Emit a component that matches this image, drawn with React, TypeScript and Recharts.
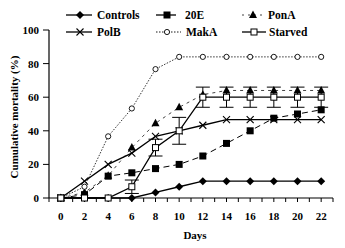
import React from 'react';
import { LineChart, Line, XAxis, YAxis, ErrorBar } from 'recharts';

const days = [0, 2, 4, 6, 8, 10, 12, 14, 16, 18, 20, 22];
const controls = [0, 0, 0, 0, 3.3, 6.7, 10, 10, 10, 10, 10, 10];
const e20 = [0, 2, 13, 15, 17.5, 20, 25, 32.5, 40, 47.5, 50, 52.5];
const ponA = [0, 3.3, 13.3, 30, 44.5, 54, 61.5, 64, 64, 64, 64, 64];
const polB = [0, 10, 20, 26.7, 36.7, 40, 43.3, 46.7, 46.7, 46.7, 46.7, 46.7];
const makA = [0, 6.7, 36.7, 53.3, 76.7, 84, 84, 84, 84, 84, 84, 84];
const starved = [0, 0, 0, 6.7, 30, 40, 60, 60, 60, 60, 60, 60];
const starvedErr: (number | null)[] = [null, null, null, 4, 5, 8, 6, 6, 6, 6, 6, 6];

const xTicks = Array.from({ length: 25 }, (_, i) => i - 1);
const yTicks = [0, 20, 40, 60, 80, 100];

const data = days.map((d, i) => ({
  day: d,
  controls: controls[i],
  e20: e20[i],
  ponA: ponA[i],
  polB: polB[i],
  makA: makA[i],
  starved: starved[i],
  starvedErr: starvedErr[i],
}));

const FONT = "'Liberation Serif', 'Times New Roman', 'DejaVu Serif', serif";
const textStyle = { fontFamily: FONT, fontWeight: 700 as const };

type Shape = 'diamond' | 'square' | 'triangle' | 'x' | 'circle' | 'osquare';

const Marker = ({ shape, cx, cy }: { shape: Shape; cx: number; cy: number }) => {
  switch (shape) {
    case 'diamond':
      return <polygon points={`${cx},${cy - 4} ${cx + 4},${cy} ${cx},${cy + 4} ${cx - 4},${cy}`} fill="#000" />;
    case 'square':
      return <rect x={cx - 3.5} y={cy - 3.5} width={7} height={7} fill="#000" />;
    case 'triangle':
      return <polygon points={`${cx},${cy - 4.5} ${cx + 4},${cy + 3} ${cx - 4},${cy + 3}`} fill="#000" />;
    case 'x':
      return (
        <g stroke="#000" strokeWidth={1.1}>
          <line x1={cx - 3.5} y1={cy - 3.5} x2={cx + 3.5} y2={cy + 3.5} />
          <line x1={cx - 3.5} y1={cy + 3.5} x2={cx + 3.5} y2={cy - 3.5} />
        </g>
      );
    case 'circle':
      return <circle cx={cx} cy={cy} r={2.6} fill="#fff" stroke="#000" strokeWidth={0.9} />;
    case 'osquare':
      return <rect x={cx - 3} y={cy - 3} width={6} height={6} fill="#fff" stroke="#000" strokeWidth={1} />;
  }
  return null;
};

const dotFn = (shape: Shape) => (props: any) => {
  const { cx, cy, index } = props;
  if (cx == null || cy == null) return <g key={`d-${shape}-${index}`} />;
  return (
    <g key={`d-${shape}-${index}`}>
      <Marker shape={shape} cx={cx} cy={cy} />
    </g>
  );
};

const legendItems: { label: string; shape: Shape; x1: number; x2: number; mx: number; tx: number; y: number; dash?: string; color: string; w: number }[] = [
  { label: 'Controls', shape: 'diamond', x1: 66, x2: 92, mx: 80, tx: 97, y: 15, color: '#000', w: 1.3 },
  { label: '20E', shape: 'square', x1: 156, x2: 176, mx: 167, tx: 185, y: 15, color: '#000', w: 1.3 },
  { label: 'PonA', shape: 'triangle', x1: 242, x2: 263, mx: 253, tx: 268, y: 15, dash: '2 4', color: '#444', w: 1 },
  { label: 'PolB', shape: 'x', x1: 66, x2: 92, mx: 80, tx: 97, y: 32, color: '#000', w: 1.3 },
  { label: 'MakA', shape: 'circle', x1: 156, x2: 181, mx: 167, tx: 186, y: 32, dash: '1.5 1.5', color: '#000', w: 0.9 },
  { label: 'Starved', shape: 'osquare', x1: 242, x2: 266, mx: 254, tx: 269, y: 32, color: '#000', w: 1.3 },
];

const tickStyle = { fill: '#000', fontSize: 11, fontWeight: 700, fontFamily: FONT, style: textStyle };

export default function App() {
  return (
    <div style={{ position: 'absolute', left: 0, top: 0, width: 345, height: 248, background: '#fff', fontFamily: FONT }}>
      <LineChart
        width={345}
        height={248}
        data={data}
        margin={{ top: 30, right: 12, left: 0, bottom: 0 }}
        style={{ fontFamily: FONT }}
      >
        <XAxis
          dataKey="day"
          type="number"
          domain={[-1, 23]}
          ticks={xTicks}
          interval={0}
          height={50}
          tickSize={4}
          tickMargin={10}
          stroke="#000"
          tickFormatter={(v: number) => (v >= 0 && v <= 22 && v % 2 === 0 ? String(v) : '')}
          tick={tickStyle}
          axisLine={{ stroke: '#000', strokeWidth: 1.2 }}
          tickLine={{ stroke: '#000' }}
        />
        <YAxis
          type="number"
          domain={[0, 100]}
          ticks={yTicks}
          interval={0}
          width={49}
          tickSize={6}
          tickMargin={4}
          stroke="#000"
          tick={tickStyle}
          axisLine={{ stroke: '#000', strokeWidth: 1.2 }}
          tickLine={{ stroke: '#000' }}
        />
        <Line dataKey="controls" stroke="#000" strokeWidth={1.3} dot={dotFn('diamond')} isAnimationActive={false} />
        <Line dataKey="e20" stroke="#000" strokeWidth={1} strokeDasharray="6 4" dot={dotFn('square')} isAnimationActive={false} />
        <Line dataKey="ponA" stroke="#444" strokeWidth={1} strokeDasharray="3 4" dot={dotFn('triangle')} isAnimationActive={false} />
        <Line dataKey="polB" stroke="#000" strokeWidth={1.3} dot={dotFn('x')} isAnimationActive={false} />
        <Line dataKey="makA" stroke="#000" strokeWidth={0.8} strokeDasharray="1.5 1.5" dot={dotFn('circle')} isAnimationActive={false} />
        <Line dataKey="starved" stroke="#000" strokeWidth={1.3} dot={dotFn('osquare')} isAnimationActive={false}>
          <ErrorBar dataKey="starvedErr" direction="y" width={7} stroke="#000" strokeWidth={1} />
        </Line>
      </LineChart>
      <svg width={345} height={248} style={{ position: 'absolute', left: 0, top: 0, pointerEvents: 'none' }}>
        {legendItems.map((it) => (
          <g key={it.label}>
            <line x1={it.x1} y1={it.y} x2={it.x2} y2={it.y} stroke={it.color} strokeWidth={it.w} strokeDasharray={it.dash} />
            <Marker shape={it.shape} cx={it.mx} cy={it.y} />
            <text x={it.tx} y={it.y + 4} fontSize={11.5} fill="#000" style={textStyle}>
              {it.label}
            </text>
          </g>
        ))}
        <text
          x={14}
          y={117}
          transform="rotate(-90 14 117)"
          textAnchor="middle"
          dominantBaseline="central"
          fontSize={11}
          fill="#000"
          style={textStyle}
        >
          Cumulative mortality (%)
        </text>
        <text x={195} y={239} textAnchor="middle" fontSize={11} fill="#000" style={textStyle}>
          Days
        </text>
      </svg>
    </div>
  );
}
